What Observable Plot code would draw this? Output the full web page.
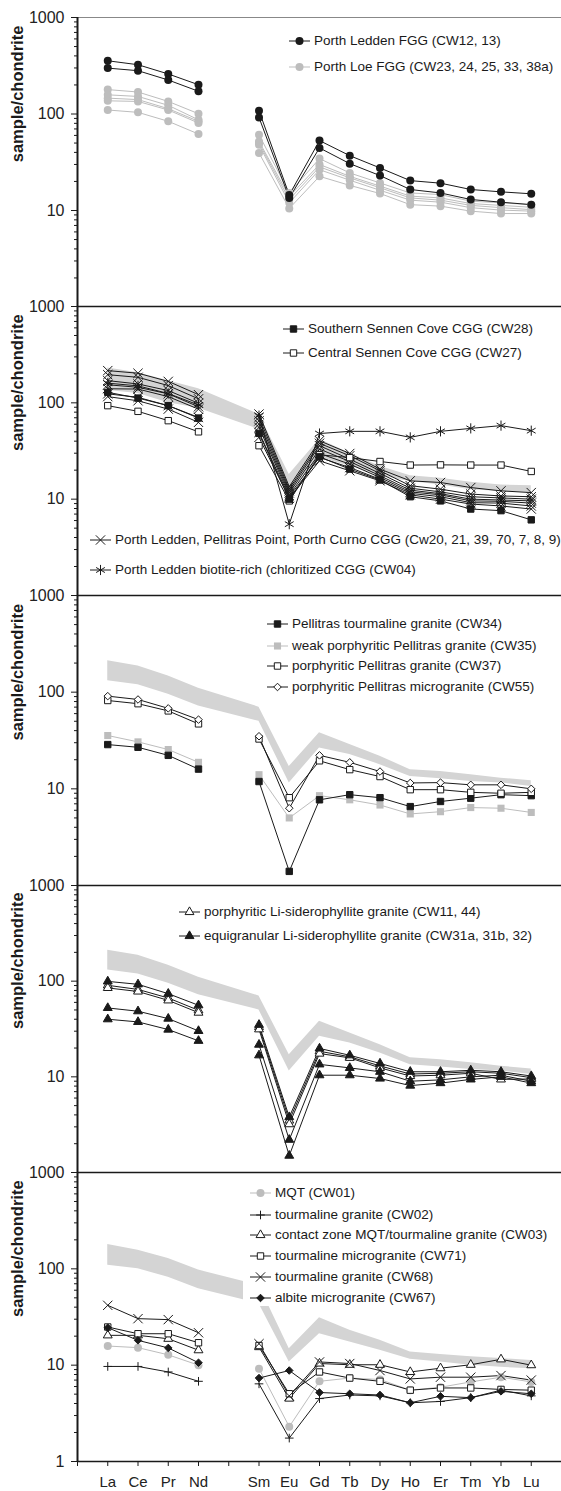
<!DOCTYPE html>
<html><head><meta charset="utf-8">
<script src="https://cdn.jsdelivr.net/npm/d3@7"></script>
<script src="https://cdn.jsdelivr.net/npm/@observablehq/plot@0.6"></script>
<style>
body{margin:0;background:#fff;}
#chart{position:relative;width:561px;height:1491px;font-family:"Liberation Sans",Arial,sans-serif;overflow:hidden;}
.panel{position:absolute;left:0;}
.leg{position:absolute;font-size:13.5px;color:#1a1a1a;white-space:nowrap;display:flex;align-items:center;height:18px;line-height:18px;}
.leg svg{overflow:visible;display:block;}
.legbox{position:absolute;background:#fff;}
</style></head><body><div id="chart"></div><script>
// ---- categories ----
const elements = ["La","Ce","Pr","Nd","Sm","Eu","Gd","Tb","Dy","Ho","Er","Tm","Yb","Lu"];
const tickLabels = ["","La","Ce","Pr","Nd","","Sm","Eu","Gd","Tb","Dy","Ho","Er","Tm","Yb","Lu"];
const majorTicks = [1,10,100,1000];
const minorTicks = [2,3,4,5,6,7,8,9,20,30,40,50,60,70,80,90,200,300,400,500,600,700,800,900];

// ---- panel 1 ----
const portLeddenFGG = [
  [356,324,260,201,108,14.5,53,37,27.6,20.4,19.2,16.5,15.6,14.9],
  [299,281,225,172,92,13.5,44.5,30.6,23,16.5,15.2,13,12.2,11.5]
];
const porthLoeFGG = [
  [179,169,135,100.7,61,15.2,34.5,24.5,19.3,15.2,14.6,12.5,12,11.5],
  [158,152,123,87,52,14,30,22.6,17.9,14.1,13.5,11.8,11.3,10.8],
  [146,141,113.5,84,50,13,28.3,21.8,17.2,13.5,12.8,11.3,10.7,10.2],
  [137,135,110,80.7,48,12,26.5,20.6,16.2,12.8,12.2,10.7,10.1,9.85],
  [110,104,84,62,39.5,10.5,22.6,18.2,15,11.5,11.1,9.85,9.3,9.3]
];
// ---- panel 2 ----
const bandHigh2 = [230,205,170,140,76,18,42,30,22,17.5,16.5,15,14,13.8];
const bandLow2  = [134,125,100,88,53,11.3,27,22,17.5,15.3,14,12.5,12,11.7];
const southernSennen = [[128.6,112,93.5,69.5,48.2,10,27.5,20.5,15.8,10.6,9.6,7.9,7.6,6.1]];
const centralSennen  = [[93.5,81.6,65.3,50,35.9,9.6,28.9,27,24.6,22.6,22.7,22.6,22.6,19.4]];
const cggSamples = [
  [216,203,167,121.6,76.5,13.5,40.4,29.8,20.5,15.5,14.9,13.2,12.2,11.7],
  [196,184,151,110,70.6,12.8,38,28.2,19.7,13.8,12.7,11.3,10.8,10.6],
  [170,157,134,99,65,12.2,35.9,26,18.5,13,11.9,10.6,10.3,10],
  [154,145,124,91,60,11.6,33.1,24.6,17.5,12.4,11.4,10,9.8,9.6],
  [140,139,116,86,55.6,11,29.8,23.1,16.8,11.9,11.1,9.6,9.5,9.1],
  [124,114,93.5,70.6,49.3,10.6,27.1,21.3,16.1,11.5,10.6,9.2,9.1,8.5],
  [116,105,86,62.7,43.8,10.2,25,19.7,15.5,11.1,10,8.9,8.5,7.9]
];
const biotiteRich = [[160,150,125,95,73.6,5.5,48,50.6,50.6,43.8,50.6,54.3,58,51.4]];
// ---- panels 3 & 4 band ----
const bandHigh34 = [211,187,147,110,70,17,38,28.7,21.7,15.8,15.1,14,12.9,12.1];
const bandLow34  = [131,119,95,72,50,11.5,26.5,22.6,17.8,13.4,12.7,11.9,11.5,10.6];
// ---- panel 3 ----
const cw34 = [[28.7,26.9,22.2,16,11.9,1.4,7.7,8.7,8.1,6.55,7.4,8,8.7,8.5]];
const cw35 = [[35.6,30.6,25.5,18.8,14,5,8.5,7.7,6.8,5.5,5.8,6.4,6.3,5.7]];
const cw37 = [[82,76,64,47,32.8,8.1,19.5,15.8,13.4,9.8,9.8,9.2,9,9.2]];
const cw55 = [[91,84,68,52,35,6.3,22.2,18.8,15.1,11.5,11.6,11,11,10]];
// ---- panel 4 ----
const porphLiSid = [
  [90.5,82,66.7,49.6,33.2,3.5,18.5,16.2,13,10.7,10.9,11.3,10.9,9.8],
  [85,78,63,46.9,31.4,3.2,17.5,15.8,12.4,10.2,10.4,10.9,9.4,9.5]
];
const equiLiSid = [
  [99.5,92.7,74,56,35,3.8,19.8,16.8,13.8,11.3,11.3,11.7,11.3,10.2],
  [52.5,48.5,40.6,30.2,21.7,2.2,13.5,12.4,11.3,9,9.3,10,10.4,9],
  [40,37.5,31.2,23.8,16.8,1.5,10.4,10.4,9.6,8.1,8.6,9.4,10,8.6]
];
// ---- panel 5 ----
const bandHigh5 = [179,156,128,97,67.5,14.8,31,23,18.1,13.7,12.9,12.2,11.7,11.2];
const bandLow5  = [109,100,82,62,43.5,10.8,21.2,17.4,14.3,11.5,10.8,10,9.5,9.2];
const mqt  = [[15.8,15.2,12.8,10,9.2,2.3,6.8,7.35,7.1,5.5,5.9,6.7,7.5,6.7]];
const cw02 = [[9.7,9.7,8.5,6.8,6.4,1.75,4.5,4.9,4.8,4.07,4.2,4.6,5.5,4.8]];
const cw03 = [[20.4,20.4,18.8,14.3,15.4,4.5,10.4,10.1,10.1,8.5,9.3,10.1,11.5,10]];
const cw71 = [[24.9,21.2,21.2,17.1,16,5.05,8.5,7.35,6.8,5.5,5.8,5.8,5.6,5.5]];
const cw68 = [[41.8,30.4,29.7,21.7,16.7,4.8,10.8,10.4,8.8,7.2,7.5,7.5,7.8,7]];
const cw67 = [[24.5,18.1,15.1,10.6,7.35,8.8,5.2,5.05,4.9,4.07,4.75,4.6,5.35,5.05]];

// ---- styles ----
const K = "#1a1a1a", G = "#bdbdbd";
const S = {
  bCircle:{symbol:"circle",fill:K,stroke:"none",line:K,r:4},
  gCircle:{symbol:"circle",fill:G,stroke:"none",line:G,r:4},
  bSquare:{symbol:"square",fill:K,stroke:K,line:K,r:3.6},
  oSquare:{symbol:"square",fill:"#fff",stroke:K,line:K,r:3.6},
  gSquare:{symbol:"square",fill:G,stroke:"none",line:G,r:4},
  times:{symbol:"times",fill:"none",stroke:K,line:K,r:4.3},
  aster:{symbol:"asterisk",fill:"none",stroke:K,line:K,r:4.8},
  oDiamond:{symbol:"diamond2",fill:"#fff",stroke:K,line:K,r:3.4},
  bDiamond:{symbol:"diamond2",fill:K,stroke:K,line:K,r:3.4},
  oTri:{symbol:"triangle",fill:"#fff",stroke:K,line:K,r:3.3},
  bTri:{symbol:"triangle",fill:K,stroke:K,line:K,r:3.3},
  plus:{symbol:"plus",fill:"none",stroke:K,line:K,r:2.9}
};
const symMap = {circle:d3.symbolCircle,square:d3.symbolSquare,times:d3.symbolTimes,asterisk:d3.symbolAsterisk,
  diamond2:d3.symbolDiamond2,triangle:d3.symbolTriangle,plus:d3.symbolPlus};

const tops = [16.5,306,595,885,1172,1461];

const panels = [
  {band:null, series:[
    {name:"Porth Loe FGG (CW23, 24, 25, 33, 38a)", st:S.gCircle, data:porthLoeFGG},
    {name:"Porth Ledden FGG (CW12, 13)", st:S.bCircle, data:portLeddenFGG}],
   legends:[{tx:314, ys:[41,67], items:["Porth Ledden FGG (CW12, 13)","Porth Loe FGG (CW23, 24, 25, 33, 38a)"]}]},
  {band:[bandLow2,bandHigh2], series:[
    {name:"Porth Ledden, Pellitras Point, Porth Curno CGG (Cw20, 21, 39, 70, 7, 8, 9)", st:S.times, data:cggSamples},
    {name:"Porth Ledden biotite-rich (chloritized CGG (CW04)", st:S.aster, data:biotiteRich},
    {name:"Central Sennen Cove CGG (CW27)", st:S.oSquare, data:centralSennen},
    {name:"Southern Sennen Cove CGG (CW28)", st:S.bSquare, data:southernSennen}],
   legends:[{tx:308, ys:[329,353], items:["Southern Sennen Cove CGG (CW28)","Central Sennen Cove CGG (CW27)"]},
            {tx:115, ys:[540,570], items:["Porth Ledden, Pellitras Point, Porth Curno CGG (Cw20, 21, 39, 70, 7, 8, 9)","Porth Ledden biotite-rich (chloritized CGG (CW04)"]}]},
  {band:[bandLow34,bandHigh34], series:[
    {name:"weak porphyritic Pellitras granite (CW35)", st:S.gSquare, data:cw35},
    {name:"Pellitras tourmaline granite (CW34)", st:S.bSquare, data:cw34},
    {name:"porphyritic Pellitras granite (CW37)", st:S.oSquare, data:cw37},
    {name:"porphyritic Pellitras microgranite (CW55)", st:S.oDiamond, data:cw55}],
   legends:[{tx:292, ys:[624,646,666,687], items:["Pellitras tourmaline granite (CW34)","weak porphyritic Pellitras granite (CW35)","porphyritic Pellitras granite (CW37)","porphyritic Pellitras microgranite (CW55)"]}]},
  {band:[bandLow34,bandHigh34], series:[
    {name:"porphyritic Li-siderophyllite granite (CW11, 44)", st:S.oTri, data:porphLiSid},
    {name:"equigranular Li-siderophyllite granite (CW31a, 31b, 32)", st:S.bTri, data:equiLiSid}],
   legends:[{tx:204, ys:[912,936], items:["porphyritic Li-siderophyllite granite (CW11, 44)","equigranular Li-siderophyllite granite (CW31a, 31b, 32)"]}]},
  {band:[bandLow5,bandHigh5], series:[
    {name:"MQT (CW01)", st:S.gCircle, data:mqt},
    {name:"tourmaline granite (CW02)", st:S.plus, data:cw02},
    {name:"contact zone MQT/tourmaline granite (CW03)", st:S.oTri, data:cw03},
    {name:"tourmaline microgranite (CW71)", st:S.oSquare, data:cw71},
    {name:"tourmaline granite (CW68)", st:S.times, data:cw68},
    {name:"albite microgranite (CW67)", st:S.bDiamond, data:cw67}],
   legbox:{left:243, top:1180, width:318, height:126},
   legends:[{tx:275, ys:[1193,1215,1235,1256,1277,1298], items:["MQT (CW01)","tourmaline granite (CW02)","contact zone MQT/tourmaline granite (CW03)","tourmaline microgranite (CW71)","tourmaline granite (CW68)","albite microgranite (CW67)"]}]}
];

const xOf = i => (i < 4 ? i + 1 : i + 2);
const chart = document.getElementById("chart");
const mt = 14;

panels.forEach((p, pi) => {
  const h = tops[pi+1] - tops[pi];
  const last = pi === panels.length - 1;
  const mb = last ? 30 : 1;
  const marks = [];
  if (p.band) {
    const rows = elements.map((e, i) => ({x: xOf(i), lo: p.band[0][i], hi: p.band[1][i]}));
    marks.push(Plot.areaY(rows, {x:"x", y1:"lo", y2:"hi", fill:"#d4d4d4", curve:"linear"}));
  }
  const lineMarks = [], dotMarks = [];
  p.series.forEach((s, si) => {
    const rows = s.data.flatMap((vals, k) => vals.map((v, i) => ({x: xOf(i), y: v, key: si + "-" + k + (i < 4 ? "L" : "H")})));
    lineMarks.push(Plot.line(rows, {x:"x", y:"y", z:"key", stroke:s.st.line, strokeWidth:1}));
    dotMarks.push(Plot.dot(rows, {x:"x", y:"y", symbol:s.st.symbol, r:s.st.r, fill:s.st.fill, stroke:s.st.stroke, strokeWidth:1}));
  });
  marks.push(...lineMarks, ...dotMarks);
  marks.push(Plot.ruleY([1000], {stroke: pi === 0 ? "#888" : K, strokeWidth: pi === 0 ? 1 : 1.6}));
  if (last) marks.push(Plot.ruleY([1], {stroke:K, strokeWidth:1.6}));
  marks.push(Plot.ruleX([0], {stroke:K, strokeWidth:2}));
  marks.push(Plot.axisY({ticks: last ? majorTicks : majorTicks.slice(1), tickSize:6, tickPadding:7, fontSize:16, tickFormat:d => String(d), label:null, stroke:K, fill:"#222"}));
  marks.push(Plot.axisY({ticks: minorTicks, tickSize:3, tickFormat:() => "", label:null, stroke:K}));
  marks.push(Plot.text(["sample/chondrite"], {frameAnchor:"left", dx:-60, rotate:-90, fontWeight:"bold", fontSize:16.5, fill:K}));
  if (last) {
    marks.push(Plot.axisX({ticks: tickLabels.map((_, i) => i), tickFormat: i => tickLabels[i], tickSize:5, tickPadding:10, fontSize:15, label:null, stroke:K, fill:"#222"}));
  }
  const svg = Plot.plot({
    width:561, height: mt + h + mb,
    marginLeft:77, marginRight:0, marginTop:mt, marginBottom:mb,
    x:{type:"linear", domain:[0,16], axis:null},
    y:{type:"log", domain:[1,1000], axis:null},
    style:{background:"transparent", overflow:"visible", fontFamily:"'Liberation Sans', Arial, sans-serif", color:K},
    marks
  });
  svg.classList.add("panel");
  svg.style.top = (tops[pi] - mt) + "px";
  chart.appendChild(svg);
});

// legends
panels.forEach(p => {
  if (p.legbox) {
    const b = document.createElement("div");
    b.className = "legbox";
    Object.assign(b.style, {left:p.legbox.left+"px", top:p.legbox.top+"px", width:p.legbox.width+"px", height:p.legbox.height+"px"});
    chart.appendChild(b);
  }
  p.legends.forEach(lg => {
    lg.items.forEach((label, j) => {
      const s = p.series.find(q => q.name === label);
      const row = document.createElement("div");
      row.className = "leg";
      row.style.left = (lg.tx - 25) + "px";
      row.style.top = (lg.ys[j] - 9) + "px";
      const sv = d3.create("svg").attr("width", 21).attr("height", 18).style("margin-right", "4px");
      sv.append("line").attr("x1", 0).attr("x2", 21).attr("y1", 9).attr("y2", 9).attr("stroke", s.st.line).attr("stroke-width", 1);
      sv.append("path").attr("transform", "translate(10.5,9)")
        .attr("d", d3.symbol(symMap[s.st.symbol], Math.PI * s.st.r * s.st.r)())
        .attr("fill", s.st.fill).attr("stroke", s.st.stroke).attr("stroke-width", 1);
      row.appendChild(sv.node());
      const t = document.createElement("span");
      t.textContent = label;
      row.appendChild(t);
      chart.appendChild(row);
    });
  });
});
</script></body></html>
